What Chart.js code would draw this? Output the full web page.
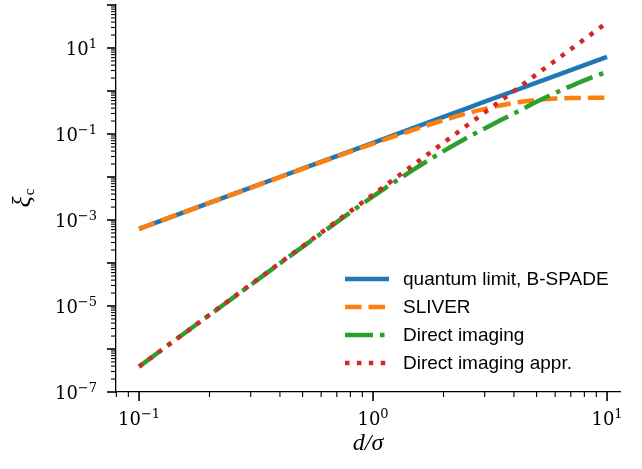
<!DOCTYPE html>
<html>
<head>
<meta charset="utf-8">
<script src="https://cdn.jsdelivr.net/npm/chart.js@4.4.0/dist/chart.umd.min.js"></script>
<style>
  html, body { margin: 0; padding: 0; background: #fff; }
</style>
</head>
<body>
<canvas id="xiChart" width="642" height="469"></canvas>
<script>
// d/sigma sample points and the four curves
const dValues = [0.1, 0.15, 0.2, 0.3, 0.4, 0.5, 0.7, 1, 1.5, 2, 2.5, 3, 4, 5, 6, 7, 8, 10];
const quantumLimit = [0.000625, 0.00141, 0.0025, 0.00563, 0.01, 0.0156, 0.0306, 0.0625, 0.141, 0.25, 0.39, 0.563, 1.0, 1.56, 2.25, 3.06, 4.0, 6.25];
const sliver = [0.000625, 0.00141, 0.0025, 0.0056, 0.0099, 0.0155, 0.030, 0.0598, 0.127, 0.21, 0.299, 0.385, 0.529, 0.62, 0.666, 0.685, 0.691, 0.693];
const directImaging = [3.9e-7, 1.98e-6, 6.2e-6, 3.1e-5, 9.8e-5, 2.38e-4, 8.9e-4, 3.55e-3, 0.0152, 0.040, 0.080, 0.135, 0.30, 0.56, 0.90, 1.30, 1.77, 2.8];
const directApprox = [3.9e-7, 1.98e-6, 6.25e-6, 3.16e-5, 1.0e-4, 2.44e-4, 9.4e-4, 3.9e-3, 0.0198, 0.0625, 0.153, 0.316, 1.0, 2.44, 5.06, 9.4, 16, 39];
const seriesNames = ['quantum limit, B-SPADE', 'SLIVER', 'Direct imaging', 'Direct imaging appr.'];

// tick labels are "base^exponent"
const xTickValues = [0.1, 1, 10];
const xTickLabels = ['10^−1', '10^0', '10^1'];
const yTickValues = [1e-7, 1e-5, 1e-3, 1e-1, 1e1];
const yTickLabels = ['10^−7', '10^−5', '10^−3', '10^−1', '10^1'];

const serif = "'DejaVu Serif', 'Liberation Serif', serif";

function toPoints(ys) {
    return dValues.map((d, i) => ({ x: d, y: ys[i] }));
}

function isDecade(v) {
    const e = Math.log10(v);
    return Math.abs(e - Math.round(e)) < 1e-6;
}

// major + minor (2..9) positions of a log axis
function logTicks(scale) {
    const out = [];
    const lo = Math.floor(Math.log10(scale.min));
    const hi = Math.ceil(Math.log10(scale.max));
    for (let e = lo; e <= hi; e++) {
        for (let m = 1; m < 10; m++) {
            const v = m * Math.pow(10, e);
            if (v >= scale.min * 0.9999 && v <= scale.max * 1.0001) out.push({ value: v });
        }
    }
    scale.ticks = out;
}

// matplotlib-style tick marks and 10^n labels
const tickMarks = {
    id: 'tickMarks',
    afterDraw(chart) {
        const { ctx, chartArea } = chart;
        ctx.save();
        ctx.strokeStyle = '#000';
        ['x', 'y'].forEach(id => {
            const scale = chart.scales[id];
            scale.ticks.forEach(t => {
                const major = isDecade(t.value);
                const len = major ? 9 : 5;
                const p = scale.getPixelForValue(t.value);
                ctx.lineWidth = major ? 1.6 : 1.1;
                ctx.beginPath();
                if (id === 'x') {
                    ctx.moveTo(p, chartArea.bottom);
                    ctx.lineTo(p, chartArea.bottom + len);
                } else {
                    ctx.moveTo(chartArea.left, p);
                    ctx.lineTo(chartArea.left - len, p);
                }
                ctx.stroke();
            });
        });

        ctx.fillStyle = '#000';
        ctx.textBaseline = 'alphabetic';
        ctx.textAlign = 'left';
        function drawLabel(text, x, base, anchor) {
            const [b, e] = text.split('^');
            ctx.font = '18px ' + serif;
            const wb = ctx.measureText(b).width;
            ctx.font = '13px ' + serif;
            const we = ctx.measureText(e).width;
            const x0 = anchor === 'right' ? x - wb - we : x - (wb + we) / 2;
            ctx.font = '18px ' + serif;
            ctx.fillText(b, x0, base);
            ctx.font = '13px ' + serif;
            ctx.fillText(e, x0 + wb, base - 7.5);
        }
        xTickValues.forEach((v, i) => {
            drawLabel(xTickLabels[i], chart.scales.x.getPixelForValue(v), chartArea.bottom + 33, 'center');
        });
        yTickValues.forEach((v, i) => {
            drawLabel(yTickLabels[i], chartArea.left - 19, chart.scales.y.getPixelForValue(v) + 7, 'right');
        });
        ctx.restore();
    }
};

// y title with a subscript: xi_c
const yTitle = {
    id: 'yTitle',
    afterDraw(chart) {
        const { ctx, chartArea } = chart;
        ctx.save();
        ctx.translate(30, (chartArea.top + chartArea.bottom) / 2);
        ctx.rotate(-Math.PI / 2);
        ctx.fillStyle = '#000';
        ctx.textBaseline = 'alphabetic';
        ctx.font = "italic 26px 'Liberation Serif', 'DejaVu Serif', serif";
        const w1 = ctx.measureText('ξ').width;
        ctx.font = "15px 'Liberation Serif', 'DejaVu Serif', serif";
        const w2 = ctx.measureText('c').width;
        const x0 = -(w1 + w2) / 2;
        ctx.font = "italic 26px 'Liberation Serif', 'DejaVu Serif', serif";
        ctx.fillText('ξ', x0, 0);
        ctx.font = "15px 'Liberation Serif', 'DejaVu Serif', serif";
        ctx.fillText('c', x0 + w1 + 1, 3.5);
        ctx.restore();
    }
};

// legend in the lower right corner, no frame
const cornerLegend = {
    id: 'cornerLegend',
    afterDraw(chart) {
        const { ctx, chartArea } = chart;
        const sets = chart.data.datasets;
        ctx.save();
        ctx.font = "19px 'Liberation Sans', Arial, sans-serif";
        ctx.textBaseline = 'middle';
        ctx.fillStyle = '#000';
        sets.forEach((ds, i) => {
            const y = chartArea.bottom - 29 - (sets.length - 1 - i) * 28;
            const x = chartArea.right - 275;
            ctx.strokeStyle = ds.borderColor;
            ctx.lineWidth = ds.borderWidth;
            ctx.setLineDash(ds.borderDash || []);
            ctx.beginPath();
            ctx.moveTo(x, y);
            ctx.lineTo(x + 44, y);
            ctx.stroke();
            ctx.setLineDash([]);
            ctx.fillText(ds.label, x + 58, y + 1);
        });
        ctx.restore();
    }
};

const xiChart = new Chart(document.getElementById('xiChart'), {
    type: 'line',
    data: {
        datasets: [{
            label: seriesNames[0],
            data: toPoints(quantumLimit),
            borderColor: '#1f77b4',
            borderWidth: 4.5,
            order: 4
        }, {
            label: seriesNames[1],
            data: toPoints(sliver),
            borderColor: '#ff7f0e',
            borderWidth: 4.5,
            borderDash: [16.5, 7],
            cubicInterpolationMode: 'monotone',
            order: 3
        }, {
            label: seriesNames[2],
            data: toPoints(directImaging),
            borderColor: '#2ca02c',
            borderWidth: 4.5,
            borderDash: [28, 7, 4.5, 7],
            cubicInterpolationMode: 'monotone',
            order: 2
        }, {
            label: seriesNames[3],
            data: toPoints(directApprox),
            borderColor: '#d62728',
            borderWidth: 4.5,
            borderDash: [4.5, 7.4],
            order: 1
        }]
    },
    options: {
        responsive: false,
        animation: false,
        layout: {
            padding: { top: 5, right: 22, bottom: 0, left: 0 }
        },
        elements: {
            point: { radius: 0 },
            line: { fill: false }
        },
        scales: {
            x: {
                type: 'logarithmic',
                min: 0.0797,
                max: 11.36,
                afterBuildTicks: logTicks,
                afterFit: function (scale) {
                    scale.height = 77;
                    scale.paddingLeft = 0;
                    scale.paddingRight = 0;
                },
                border: { display: true, color: '#000', width: 1.3 },
                grid: { drawOnChartArea: false, drawTicks: false },
                ticks: { display: false },
                title: {
                    display: true,
                    text: 'd/σ',
                    color: '#000',
                    font: { family: "'Liberation Serif', 'DejaVu Serif', serif", size: 24, style: 'italic' },
                    padding: { top: 0, bottom: 11 }
                }
            },
            y: {
                type: 'logarithmic',
                min: 1e-7,
                max: 100,
                afterBuildTicks: logTicks,
                afterFit: function (scale) {
                    scale.width = 116;
                    scale.paddingTop = 0;
                    scale.paddingBottom = 0;
                },
                border: { display: true, color: '#000', width: 1.3 },
                grid: { drawOnChartArea: false, drawTicks: false },
                ticks: { display: false }
            }
        },
        plugins: {
            legend: { display: false },
            tooltip: { enabled: false }
        }
    },
    plugins: [tickMarks, yTitle, cornerLegend]
});
</script>
</body>
</html>
